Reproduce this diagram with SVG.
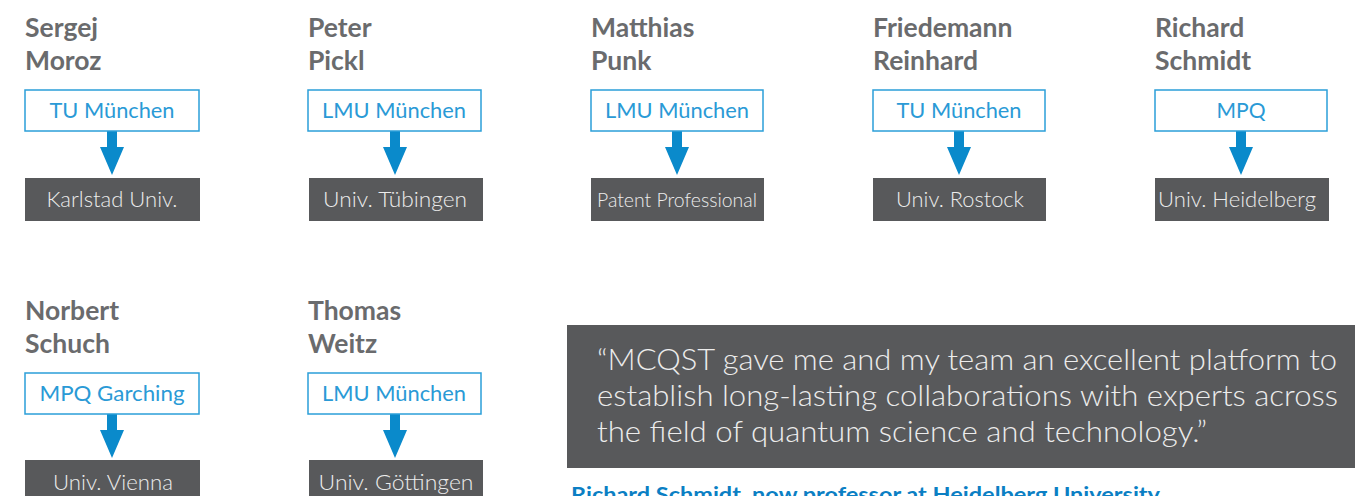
<svg xmlns="http://www.w3.org/2000/svg" width="1355" height="496" viewBox="0 0 1355 496">
<defs>
<style>
.name{font-family:Lato,"Open Sans",sans-serif;font-weight:700;font-size:26.5px;fill:#6a6b6d}
.org{fill:#ffffff;stroke:#2b9fd9;stroke-width:1.5}
.orgt{font-family:Lato,"Open Sans",sans-serif;font-size:21px;fill:#2a9ad6;text-anchor:middle}
.dest{fill:#58595b}
.destt{font-family:Lato,"Open Sans",sans-serif;font-weight:300;font-size:21px;fill:#ececec;text-anchor:middle}
.arr{fill:#0a8acb}
.quote{font-family:Lato,"Open Sans",sans-serif;font-weight:300;font-size:29px;fill:#ececec}
.cap{font-family:Lato,"Open Sans",sans-serif;font-weight:700;font-size:20px;fill:#0b7fc4}
</style>
<path id="arrow" d="M-5,0 H5 V16 H12 L0,44 L-12,16 H-5 Z"/>
</defs>
<rect width="1355" height="496" fill="#ffffff"/>

<g id="connectors">
<use href="#arrow" class="arr" x="112" y="131"/>
<use href="#arrow" class="arr" x="395" y="131"/>
<use href="#arrow" class="arr" x="677" y="131"/>
<use href="#arrow" class="arr" x="959" y="131"/>
<use href="#arrow" class="arr" x="1241" y="131"/>
<use href="#arrow" class="arr" x="112" y="414"/>
<use href="#arrow" class="arr" x="395" y="414"/>
</g>

<g id="moroz">
<text class="name" x="25" y="37">Sergej</text>
<text class="name" x="25" y="70">Moroz</text>
<rect class="org" x="25" y="90" width="174" height="41"/>
<text class="orgt" x="112" y="118" textLength="125" lengthAdjust="spacingAndGlyphs">TU München</text>
<rect class="dest" x="25" y="178" width="175" height="43"/>
<text class="destt" x="112" y="207" textLength="131" lengthAdjust="spacingAndGlyphs">Karlstad Univ.</text>
</g>

<g id="pickl">
<text class="name" x="308" y="37">Peter</text>
<text class="name" x="308" y="70">Pickl</text>
<rect class="org" x="308" y="90" width="173" height="41"/>
<text class="orgt" x="394" y="118" textLength="144" lengthAdjust="spacingAndGlyphs">LMU München</text>
<rect class="dest" x="309" y="178" width="174" height="43"/>
<text class="destt" x="395" y="207" textLength="144" lengthAdjust="spacingAndGlyphs">Univ. Tübingen</text>
</g>

<g id="punk">
<text class="name" x="591" y="37">Matthias</text>
<text class="name" x="591" y="70">Punk</text>
<rect class="org" x="591" y="90" width="172" height="41"/>
<text class="orgt" x="677" y="118" textLength="144" lengthAdjust="spacingAndGlyphs">LMU München</text>
<rect class="dest" x="591" y="178" width="173" height="43"/>
<text class="destt" x="677" y="207" textLength="160" lengthAdjust="spacingAndGlyphs" style="font-size:20px">Patent Professional</text>
</g>

<g id="reinhard">
<text class="name" x="873" y="37">Friedemann</text>
<text class="name" x="873" y="70">Reinhard</text>
<rect class="org" x="873" y="90" width="172" height="41"/>
<text class="orgt" x="959" y="118" textLength="125" lengthAdjust="spacingAndGlyphs">TU München</text>
<rect class="dest" x="873" y="178" width="173" height="43"/>
<text class="destt" x="960" y="207" textLength="128" lengthAdjust="spacingAndGlyphs">Univ. Rostock</text>
</g>

<g id="schmidt">
<text class="name" x="1155" y="37">Richard</text>
<text class="name" x="1155" y="70">Schmidt</text>
<rect class="org" x="1155" y="90" width="172" height="41"/>
<text class="orgt" x="1241" y="118" textLength="49" lengthAdjust="spacingAndGlyphs">MPQ</text>
<rect class="dest" x="1155" y="178" width="174" height="43"/>
<text class="destt" x="1237" y="207" textLength="158" lengthAdjust="spacingAndGlyphs">Univ. Heidelberg</text>
</g>

<g id="schuch">
<text class="name" x="25" y="320">Norbert</text>
<text class="name" x="25" y="353">Schuch</text>
<rect class="org" x="25" y="373" width="174" height="41"/>
<text class="orgt" x="112" y="401" textLength="145" lengthAdjust="spacingAndGlyphs">MPQ Garching</text>
<rect class="dest" x="25" y="460" width="175" height="43"/>
<text class="destt" x="113" y="490" textLength="120" lengthAdjust="spacingAndGlyphs">Univ. Vienna</text>
</g>

<g id="weitz">
<text class="name" x="308" y="320">Thomas</text>
<text class="name" x="308" y="353">Weitz</text>
<rect class="org" x="308" y="373" width="173" height="41"/>
<text class="orgt" x="394" y="401" textLength="144" lengthAdjust="spacingAndGlyphs">LMU München</text>
<rect class="dest" x="309" y="460" width="174" height="43"/>
<text class="destt" x="396" y="490" textLength="155" lengthAdjust="spacingAndGlyphs">Univ. Göttingen</text>
</g>

<g id="quote">
<rect class="dest" x="567" y="325" width="788" height="143"/>
<text class="quote" x="597" y="370" textLength="740" lengthAdjust="spacingAndGlyphs">“MCQST gave me and my team an excellent platform to</text>
<text class="quote" x="597" y="406" textLength="741" lengthAdjust="spacingAndGlyphs">establish long-lasting collaborations with experts across</text>
<text class="quote" x="597" y="442" textLength="610" lengthAdjust="spacingAndGlyphs">the field of quantum science and technology.”</text>
<text class="cap" x="571" y="502" textLength="589" lengthAdjust="spacingAndGlyphs">Richard Schmidt, now professor at Heidelberg University</text>
</g>
</svg>
